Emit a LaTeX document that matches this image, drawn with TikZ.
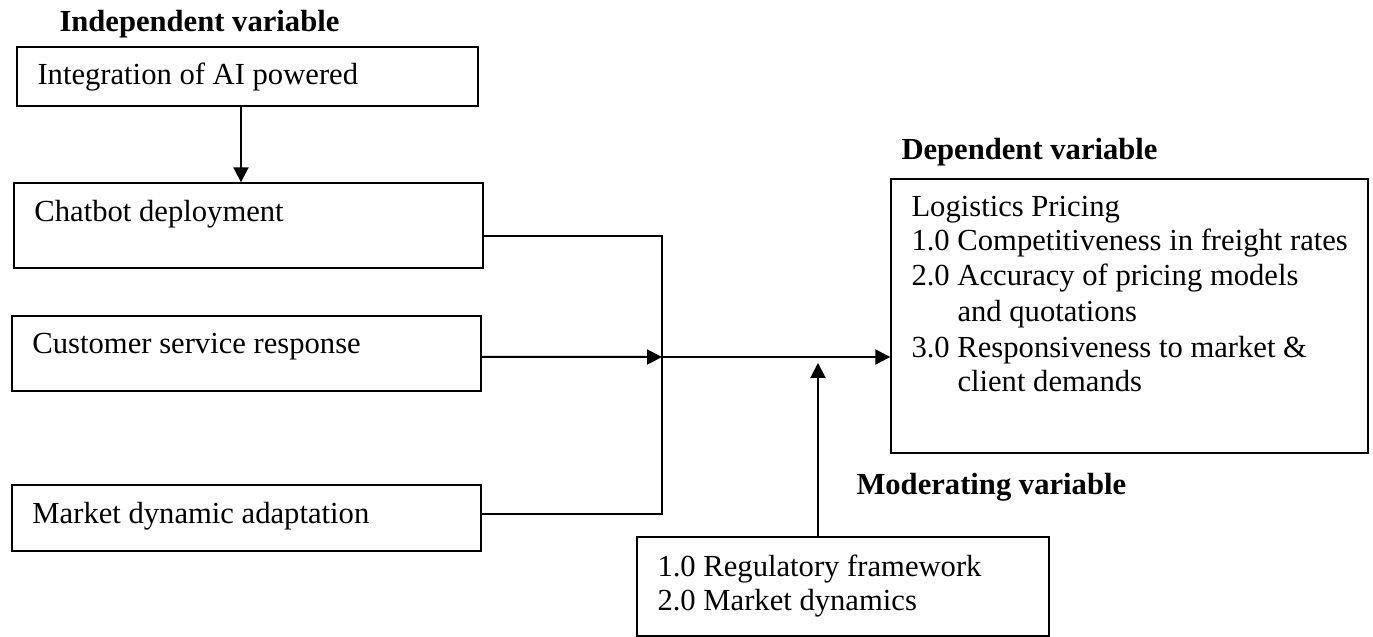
\documentclass[tikz,border=0pt]{standalone}
\usepackage{fontspec}
\setmainfont{Liberation Serif}
\usetikzlibrary{arrows.meta}
\begin{document}
\begin{tikzpicture}[x=0.4pt,y=-0.4pt,
  font=\fontsize{12.25pt}{14pt}\selectfont,
  box/.style={draw, line width=0.55pt, inner sep=0pt},
  txt/.style={anchor=base west, inner sep=0pt},
  head/.style={txt, font=\fontsize{12.25pt}{14pt}\selectfont\bfseries},
  conn/.style={line width=0.8pt},
  arr/.style={conn, -{Triangle[length=6pt,width=6pt]}}]
\useasboundingbox (0,0) rectangle (1373,637);
% boxes
\node[box, minimum width=184.4pt, minimum height=23.6pt] (b1) at (247.5,76.5) {};
\node[box, minimum width=187.6pt, minimum height=34pt] (b2) at (248.5,225.5) {};
\node[box, minimum width=187.6pt, minimum height=30pt] (b3) at (246.5,353.5) {};
\node[box, minimum width=187.6pt, minimum height=26.4pt] (b4) at (246.5,518) {};
\node[box, minimum width=190.8pt, minimum height=109.6pt] (dep) at (1129.5,316) {};
\node[box, minimum width=164.8pt, minimum height=39.6pt] (mod) at (843,586.5) {};
% texts
\node[head] (h1) at (59,32) {Independent variable};
\node[txt] (t1) at (37,85) {Integration of AI powered};
\node[txt] (t2) at (34,222) {Chatbot deployment};
\node[txt] (t3) at (32,354) {Customer service response};
\node[txt] (t4) at (32,524) {Market dynamic adaptation};
\node[head] (h2) at (901,160) {Dependent variable};
\node[txt] (d0) at (911,217) {Logistics Pricing};
\node[txt] (d1) at (911,251) {1.0 Competitiveness in freight rates};
\node[txt] (d2) at (911,286) {2.0 Accuracy of pricing models};
\node[txt] (d3) at (957,322) {and quotations};
\node[txt] (d4) at (911,358) {3.0 Responsiveness to market \&};
\node[txt] (d5) at (957,392) {client demands};
\node[head] (h3) at (856,495) {Moderating variable};
\node[txt] (m1) at (657,577) {1.0 Regulatory framework};
\node[txt] (m2) at (657,611) {2.0 Market dynamics};
% connectors
\coordinate (x241) at (241,0);
\coordinate (j) at (662,357);
\coordinate (mt) at (818,363);
\draw[arr] (b1.south -| x241) -- (b2.north -| x241);
\draw[conn] ([yshift=-4.2pt]b2.east) -| (j);
\draw[arr] ([yshift=-1.4pt]b3.east) -- (j);
\draw[conn] ([yshift=1.6pt]b4.east) -| (j);
\draw[arr] (j) -- (dep.west |- j);
\draw[arr] (mod.north -| mt) -- (mt);
\end{tikzpicture}
\end{document}
